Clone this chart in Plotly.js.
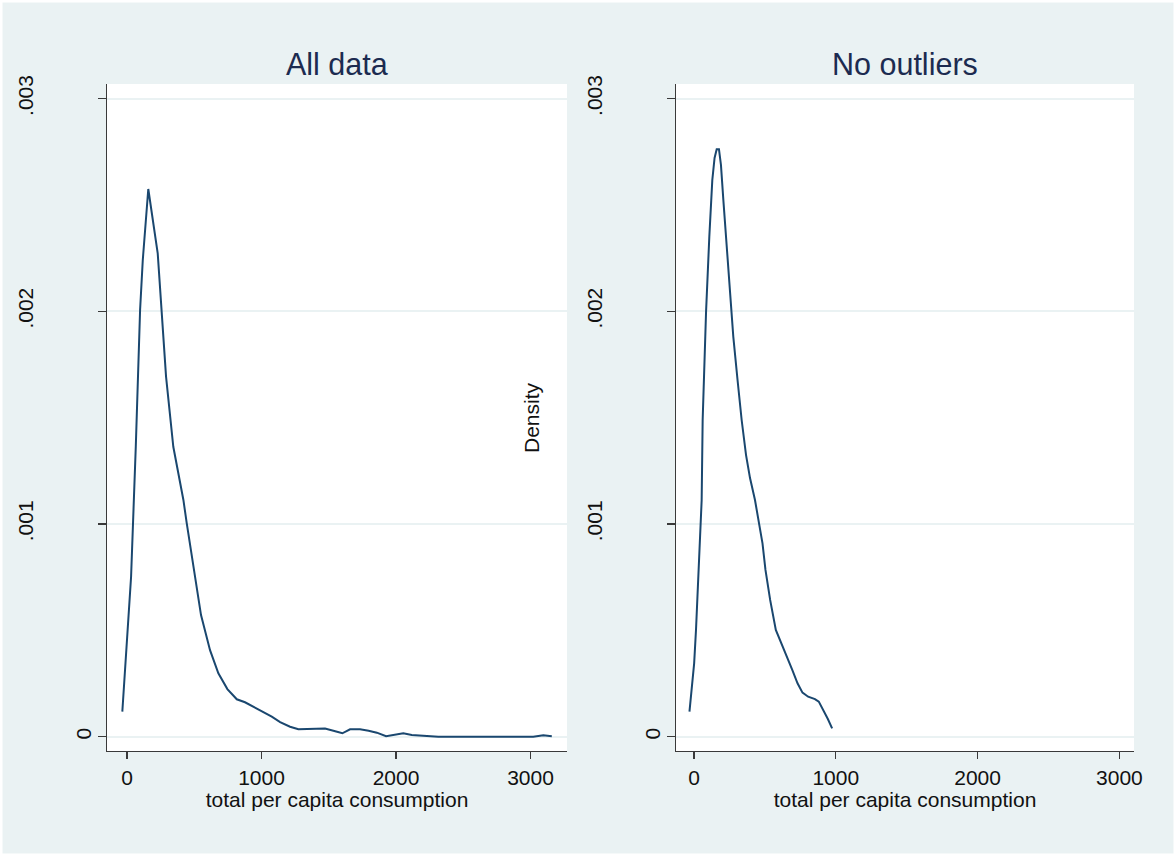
<!DOCTYPE html>
<html>
<head>
<meta charset="utf-8">
<script src="https://cdn.plot.ly/plotly-3.0.1.min.js"></script>
<style>html,body{margin:0;padding:0;background:#fff;}#chart{width:1176px;height:856px;}</style>
</head>
<body>
<div id="chart"></div>
<script>
// ---- Data (kernel density estimates) ----
const allX = [-35, 30, 65, 97, 117, 158, 228, 258, 290, 344, 419, 444, 481, 518, 550, 617, 679, 746, 816, 877, 939, 1001, 1076, 1138, 1212, 1274, 1336, 1411, 1472, 1534, 1601, 1658, 1732, 1796, 1857, 1926, 1985, 2054, 2117, 2203, 2314, 3020, 3095, 3158];
const allY = [0.000118, 0.000752, 0.001363, 0.002006, 0.002241, 0.002575, 0.002273, 0.002006, 0.001693, 0.001363, 0.001113, 0.001003, 0.000846, 0.000705, 0.000572, 0.000407, 0.000298, 0.000224, 0.000176, 0.000162, 0.000141, 0.000118, 0.000094, 0.000069, 0.000047, 0.000035, 0.000035, 0.000038, 0.000038, 0.000028, 0.000016, 0.000035, 0.000035, 0.000028, 0.000019, 0.000002, 0.000008, 0.000016, 0.000008, 0.000003, 0.0, 0.0, 0.000007, 0.000002];

const noOutX = [-32, 1, 14, 32, 54, 61, 85, 108, 129, 145, 160, 176, 190, 207, 231, 242, 277, 307, 336, 367, 395, 430, 456, 483, 504, 537, 577, 617, 657, 693, 730, 765, 805, 853, 880, 912, 944, 974];
const noOutY = [0.000118, 0.000345, 0.000502, 0.000799, 0.001113, 0.001489, 0.001998, 0.002351, 0.002617, 0.002721, 0.002762, 0.002762, 0.002688, 0.002523, 0.002304, 0.002194, 0.001881, 0.001677, 0.001489, 0.001324, 0.001216, 0.001113, 0.001003, 0.000909, 0.000784, 0.000643, 0.000502, 0.000439, 0.000376, 0.000314, 0.000251, 0.000207, 0.000188, 0.000177, 0.000165, 0.000126, 0.000083, 0.000039];

const panelTitles = ["All data", "No outliers"];
const xTitle = "total per capita consumption";
const yTitle = "Density";
const xTickVals = [0, 1000, 2000, 3000];
const xTickText = ["0", "1000", "2000", "3000"];
const yTickVals = [0, 0.001, 0.002, 0.003];
const yTickText = ["0", ".001", ".002", ".003"];

// ---- Styling ----
const BG = "#EAF2F3";
const LINE = "#1A476F";
const TITLE = "#1C2B50";
const AXIS = "#3a3a3a";
const FONT = "Liberation Sans, Arial, sans-serif";
const FS = 21;

const W = 1176, H = 856;
const yDom = [(H - 751) / H, (H - 84) / H];
const yRange = [-0.0000672, 0.0030687];

function xAxis(domain, range, anchor) {
  return {
    domain: domain, range: range, anchor: anchor,
    showline: true, linecolor: AXIS, linewidth: 1.3,
    ticks: "outside", ticklen: 7, tickwidth: 1.3, tickcolor: AXIS,
    tickvals: xTickVals, ticktext: xTickText,
    tickfont: {family: FONT, size: FS, color: "#111"},
    showgrid: false, zeroline: false,
    title: {text: xTitle, font: {family: FONT, size: FS, color: "#111"}, standoff: 1}
  };
}
function yAxisMain(anchor) {
  return {
    domain: yDom, range: yRange, anchor: anchor,
    showline: true, linecolor: AXIS, linewidth: 1.3,
    ticks: "outside", ticklen: 8, tickwidth: 1.3, tickcolor: AXIS,
    tickvals: yTickVals, ticktext: ["", ...yTickText.slice(1)],
    tickangle: -90, ticklabelstandoff: 56,
    tickfont: {family: FONT, size: FS, color: "#111"},
    showgrid: true, gridcolor: BG, gridwidth: 2, zeroline: false
  };
}
function yAxisZero(anchor, over) {
  return {
    domain: yDom, range: yRange, anchor: anchor, overlaying: over, side: "left",
    showline: false, ticks: "", ticklen: 8,
    tickvals: yTickVals.slice(0, 1), ticktext: yTickText.slice(0, 1),
    tickangle: -90, ticklabelstandoff: 11,
    tickfont: {family: FONT, size: FS, color: "#111"},
    showgrid: false, zeroline: false
  };
}

const traces = [
  {x: allX, y: allY, xaxis: "x", yaxis: "y", type: "scatter", mode: "lines",
   line: {color: LINE, width: 2}, hoverinfo: "skip", showlegend: false},
  {x: noOutX, y: noOutY, xaxis: "x2", yaxis: "y2", type: "scatter", mode: "lines",
   line: {color: LINE, width: 2}, hoverinfo: "skip", showlegend: false},
  // empty traces that attach the "0" label axes to their subplots
  {x: [null], y: [null], xaxis: "x", yaxis: "y3", type: "scatter", mode: "lines",
   hoverinfo: "skip", showlegend: false},
  {x: [null], y: [null], xaxis: "x2", yaxis: "y4", type: "scatter", mode: "lines",
   hoverinfo: "skip", showlegend: false}
];

const leftDom = [107 / W, 567 / W];
const rightDom = [676 / W, 1134 / W];

const layout = {
  width: W, height: H,
  margin: {l: 0, r: 0, t: 0, b: 0, pad: 0},
  paper_bgcolor: BG, plot_bgcolor: "#ffffff",
  font: {family: FONT, size: FS, color: "#111"},
  showlegend: false,
  xaxis: xAxis(leftDom, [-149, 3271], "y"),
  yaxis: yAxisMain("x"),
  xaxis2: xAxis(rightDom, [-127, 3103], "y2"),
  yaxis2: yAxisMain("x2"),
  yaxis3: yAxisZero("x", "y"),
  yaxis4: yAxisZero("x2", "y2"),
  annotations: [
    {text: panelTitles[0], xref: "paper", yref: "paper", x: (leftDom[0] + leftDom[1]) / 2, y: (H - 64) / H,
     xanchor: "center", yanchor: "middle", showarrow: false, font: {family: FONT, size: 30.5, color: TITLE}},
    {text: panelTitles[1], xref: "paper", yref: "paper", x: (rightDom[0] + rightDom[1]) / 2, y: (H - 64) / H,
     xanchor: "center", yanchor: "middle", showarrow: false, font: {family: FONT, size: 30.5, color: TITLE}},
    {text: yTitle, xref: "paper", yref: "paper", x: 531 / W, y: (H - 418) / H, textangle: -90,
     xanchor: "center", yanchor: "middle", showarrow: false, font: {family: FONT, size: FS, color: "#111"}}
  ],
  shapes: [
    {type: "rect", xref: "paper", yref: "paper", x0: 0, x1: 1, y0: 0, y1: 1,
     line: {color: "#ffffff", width: 5}, fillcolor: "rgba(0,0,0,0)", layer: "above"}
  ]
};

Plotly.newPlot("chart", traces, layout, {staticPlot: true, displayModeBar: false});
</script>
</body>
</html>
